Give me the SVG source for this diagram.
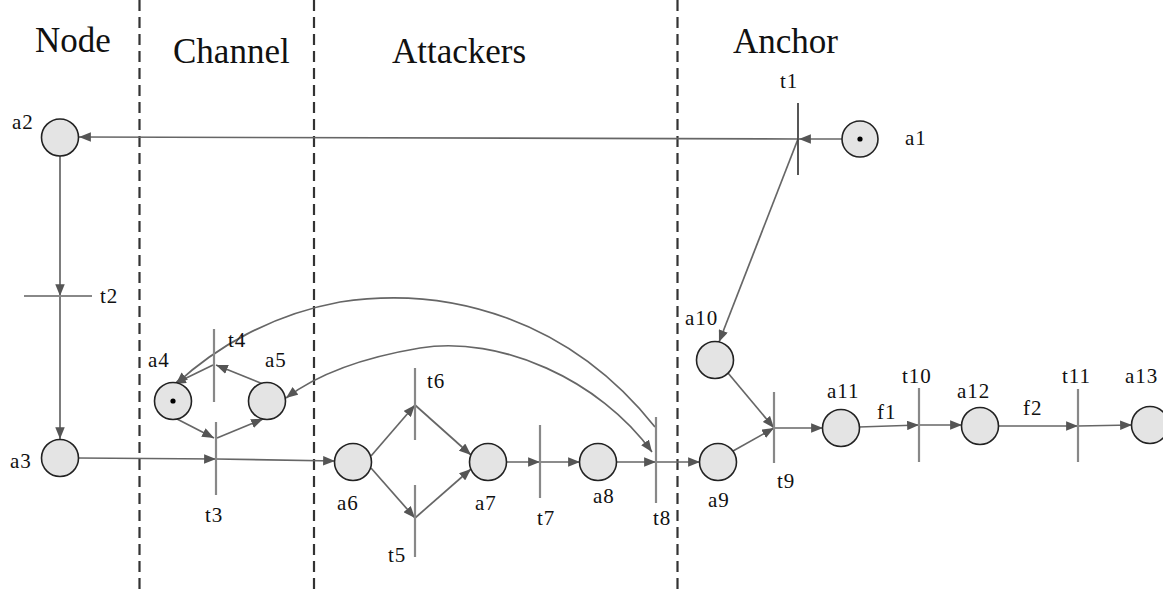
<svg xmlns="http://www.w3.org/2000/svg" width="1163" height="592" viewBox="0 0 1163 592">
  <defs>
    <marker id="arr" viewBox="0 0 10 8" refX="10" refY="4" markerWidth="12" markerHeight="9.5" markerUnits="userSpaceOnUse" orient="auto-start-reverse">
      <path d="M0,0 L10,4 L0,8 z" fill="#555"/>
    </marker>
  </defs>
  <style>
    .lane { stroke: #333; stroke-width: 2.2; stroke-dasharray: 11 6; fill: none; }
    .head { font-family: "Liberation Serif", "Times New Roman", serif; font-size: 35px; fill: #111; }
    .lbl { font-family: "Liberation Serif", "Times New Roman", serif; font-size: 21px; fill: #111; letter-spacing: 1px; }
    .place { fill: #e4e4e4; stroke: #222; stroke-width: 1.6; }
    .token { fill: #000; }
    .bar { stroke: #888; stroke-width: 2.2; fill: none; }
    .bar.dark { stroke: #444; stroke-width: 1.8; }
    .arc { stroke: #666; stroke-width: 1.7; fill: none; marker-end: url(#arr); }
    .arc.both { marker-start: url(#arr); }
  </style>

  <rect width="1163" height="592" fill="#fff"/>

  <!-- swim-lane separators -->
  <g id="lanes">
    <line class="lane" x1="139.5" y1="0" x2="139.5" y2="592"/>
    <line class="lane" x1="314" y1="0" x2="314" y2="592"/>
    <line class="lane" x1="677.5" y1="0" x2="677.5" y2="592"/>
    <text class="head" x="35" y="52">Node</text>
    <text class="head" x="173" y="63">Channel</text>
    <text class="head" x="392" y="63">Attackers</text>
    <text class="head" x="733" y="53">Anchor</text>
  </g>

  <!-- arcs -->
  <g id="connectors">
    <path class="arc" d="M842,139 L799,139"/>
    <path class="arc" d="M798,139 L79,137"/>
    <path class="arc" d="M798,139 L719,342"/>
    <path class="arc" d="M60,156 L60,296"/>
    <path class="arc" d="M60,296 L60,439"/>
    <path class="arc" d="M78,458 L216,459"/>
    <path class="arc" d="M216,459 L335,461"/>
    <path class="arc" d="M177,419 L214,438"/>
    <path class="arc" d="M217,438 L263,419"/>
    <path class="arc" d="M263,384 L216,365"/>
    <path class="arc" d="M213,365 L174,384"/>
    <path class="arc" d="M655,427 C570,320 450,285 340,302 C270,315 215,348 176,384"/>
    <path class="arc both" d="M652,452 C600,380 500,335 420,348 C360,358 315,376 286,398"/>
    <path class="arc" d="M371,456 L415,405"/>
    <path class="arc" d="M371,468 L415,518"/>
    <path class="arc" d="M415,405 L471,455"/>
    <path class="arc" d="M415,518 L471,469"/>
    <path class="arc" d="M506,462 L540,462"/>
    <path class="arc" d="M540,462 L580,462"/>
    <path class="arc" d="M616,462 L656,462"/>
    <path class="arc" d="M656,462 L700,462"/>
    <path class="arc" d="M733,451 L774,428"/>
    <path class="arc" d="M728,373 L774,428"/>
    <path class="arc" d="M774,428 L823,428"/>
    <path class="arc" d="M859,427 L919,425"/>
    <path class="arc" d="M919,425 L962,425"/>
    <path class="arc" d="M998,426 L1078,426"/>
    <path class="arc" d="M1078,426 L1132,425"/>
  </g>

  <!-- transitions -->
  <g id="t1"><line class="bar dark" x1="798" y1="103" x2="798" y2="175"/><text class="lbl" x="780" y="88">t1</text></g>
  <g id="t2"><line class="bar" x1="24" y1="296" x2="92" y2="296"/><text class="lbl" x="100" y="303">t2</text></g>
  <g id="t3"><line class="bar" x1="216" y1="422" x2="216" y2="495"/><text class="lbl" x="205" y="522">t3</text></g>
  <g id="t4"><line class="bar" x1="214" y1="329" x2="214" y2="402"/><text class="lbl" x="228" y="347">t4</text></g>
  <g id="t5"><line class="bar" x1="415" y1="485" x2="415" y2="557"/><text class="lbl" x="388" y="562">t5</text></g>
  <g id="t6"><line class="bar" x1="415" y1="368" x2="415" y2="440"/><text class="lbl" x="427" y="388">t6</text></g>
  <g id="t7"><line class="bar" x1="540" y1="425" x2="540" y2="498"/><text class="lbl" x="537" y="525">t7</text></g>
  <g id="t8"><line class="bar" x1="656" y1="417" x2="656" y2="503"/><text class="lbl" x="653" y="525">t8</text></g>
  <g id="t9"><line class="bar" x1="774" y1="392" x2="774" y2="463"/><text class="lbl" x="777" y="488">t9</text></g>
  <g id="t10"><line class="bar" x1="919" y1="388" x2="919" y2="462"/><text class="lbl" x="902" y="383">t10</text></g>
  <g id="t11"><line class="bar" x1="1078" y1="389" x2="1078" y2="462"/><text class="lbl" x="1062" y="383">t11</text></g>

  <!-- places -->
  <g id="a1"><circle class="place" cx="860" cy="139" r="18"/><circle class="token" cx="860" cy="139" r="2.6"/><text class="lbl" x="905" y="145">a1</text></g>
  <g id="a2"><circle class="place" cx="60" cy="137.5" r="18.5"/><text class="lbl" x="12" y="129">a2</text></g>
  <g id="a3"><circle class="place" cx="60" cy="458" r="18.5"/><text class="lbl" x="10" y="468">a3</text></g>
  <g id="a4"><circle class="place" cx="173" cy="401" r="18.5"/><circle class="token" cx="173" cy="401" r="2.6"/><text class="lbl" x="148" y="367">a4</text></g>
  <g id="a5"><circle class="place" cx="267" cy="401" r="18.5"/><text class="lbl" x="265" y="367">a5</text></g>
  <g id="a6"><circle class="place" cx="353" cy="462" r="18.5"/><text class="lbl" x="337" y="510">a6</text></g>
  <g id="a7"><circle class="place" cx="488" cy="462" r="18.5"/><text class="lbl" x="475" y="510">a7</text></g>
  <g id="a8"><circle class="place" cx="598" cy="462" r="18.5"/><text class="lbl" x="593" y="503">a8</text></g>
  <g id="a9"><circle class="place" cx="718" cy="462" r="18.5"/><text class="lbl" x="708" y="507">a9</text></g>
  <g id="a10"><circle class="place" cx="715" cy="360" r="18.5"/><text class="lbl" x="685" y="325">a10</text></g>
  <g id="a11"><circle class="place" cx="841" cy="428" r="18.5"/><text class="lbl" x="827" y="398">a11</text></g>
  <g id="a12"><circle class="place" cx="980" cy="426" r="18.5"/><text class="lbl" x="957" y="398">a12</text></g>
  <g id="a13"><circle class="place" cx="1150" cy="425" r="18.5"/><text class="lbl" x="1125" y="383">a13</text></g>

  <!-- arc weights -->
  <g id="weights">
    <text class="lbl" x="877" y="419">f1</text>
    <text class="lbl" x="1023" y="415">f2</text>
  </g>
</svg>
